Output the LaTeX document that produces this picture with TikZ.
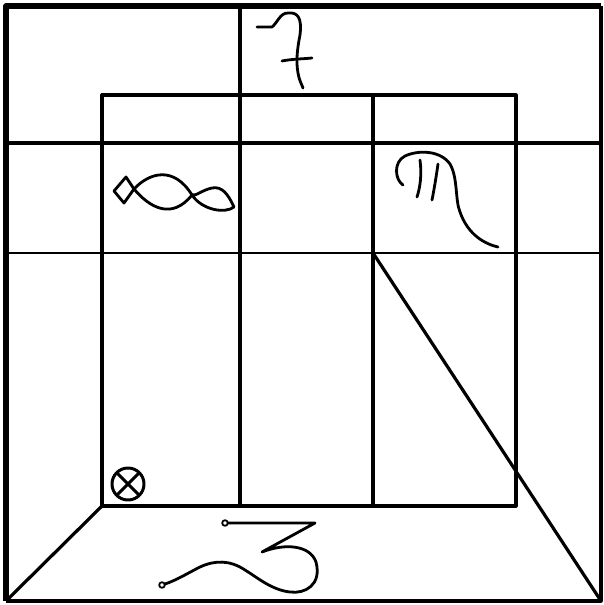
\documentclass[tikz,border=0pt]{standalone}
\begin{document}
\begin{tikzpicture}[x=1pt,y=-1pt,line join=round,
  grid/.style={line width=3.2pt},
  thin grid/.style={line width=2.4pt},
  glyph/.style={line width=2.8pt,line cap=round,line join=round}]
\useasboundingbox (0,0) rectangle (604,605);
\fill[white] (0,0) rectangle (604,605);
% named corner coordinates
\coordinate (OTL) at (6,6);
\coordinate (OTR) at (601,6);
\coordinate (OBL) at (6,601);
\coordinate (OBR) at (601,601);
\coordinate (ITL) at (102,95);
\coordinate (ITR) at (516,95);
\coordinate (IBL) at (102,506);
\coordinate (IBR) at (516,506);
\coordinate (VA) at (240,6);
\coordinate (VAb) at (240,506);
\coordinate (VB) at (373,95);
\coordinate (VBb) at (373,506);
\coordinate (HAl) at (6,143);
\coordinate (HAr) at (601,143);
\coordinate (HBl) at (6,253);
\coordinate (HBr) at (601,253);
\coordinate (DA) at (373,253);
% outer frame
\draw[line width=5.5pt] (OBL) -- (OTL) -- (OTR);
\draw[line width=3.2pt] (OTR) -- (OBR) -- (OBL);
% inner rectangle and grid
\draw[grid] (ITL) rectangle (IBR);
\draw[grid] (VA) -- (VAb);
\draw[grid] (VB) -- (VBb);
\draw[line width=4pt] (HAl) -- (HAr);
\draw[thin grid] (HBl) -- (HBr);
\draw[grid] (DA) -- (OBR);
\draw[grid] (IBL) -- (OBL);
% top glyph
\draw[glyph] (257,27) -- (272,27) .. controls (278,22) and (280,13) .. (288,13)
  .. controls (298,12) and (302,18) .. (300,35)
  .. controls (297,50) and (296,62) .. (298,73)
  .. controls (299,80) and (302,85) .. (303,88);
\draw[glyph] (282,61) .. controls (292,59) and (302,59) .. (312,58);
% fish glyph
\draw[glyph] (134,189) -- (126,177) -- (114,191) -- (124,203) -- (134,189);
\draw[glyph] (134,189) .. controls (150,172) and (174,166) .. (192,195)
  .. controls (202,210) and (225,214) .. (234,207)
  .. controls (228,194) and (222,186) .. (212,188)
  .. controls (202,190) and (197,196) .. (192,195);
\draw[glyph] (134,189) .. controls (150,208) and (172,220) .. (192,195);
% m glyph
\draw[glyph] (403,185) .. controls (395,180) and (393,162) .. (405,156)
  .. controls (418,150) and (440,150) .. (450,164)
  .. controls (458,178) and (455,200) .. (460,212)
  .. controls (468,235) and (485,244) .. (498,247);
\draw[glyph] (420,160) .. controls (422,175) and (420,188) .. (417,197);
\draw[glyph] (438,164) .. controls (436,178) and (434,190) .. (432,200);
% circled cross
\draw[line width=3pt] (128,484) circle (16);
\draw[line width=3pt] (128,484) ++(45:16) -- ++(225:32);
\draw[line width=3pt] (128,484) ++(135:16) -- ++(315:32);
% bottom glyph
\draw[line width=1.8pt] (225,523) circle (2.8);
\draw[line width=1.8pt] (162,585) circle (2.8);
\draw[glyph] (228,523) -- (315,523) -- (262,552)
  .. controls (285,543) and (310,545) .. (316,562)
  .. controls (322,585) and (305,594) .. (290,592)
  .. controls (272,590) and (258,578) .. (245,570)
  .. controls (230,560) and (215,560) .. (200,567)
  .. controls (188,573) and (177,580) .. (165,584);
\end{tikzpicture}
\end{document}
